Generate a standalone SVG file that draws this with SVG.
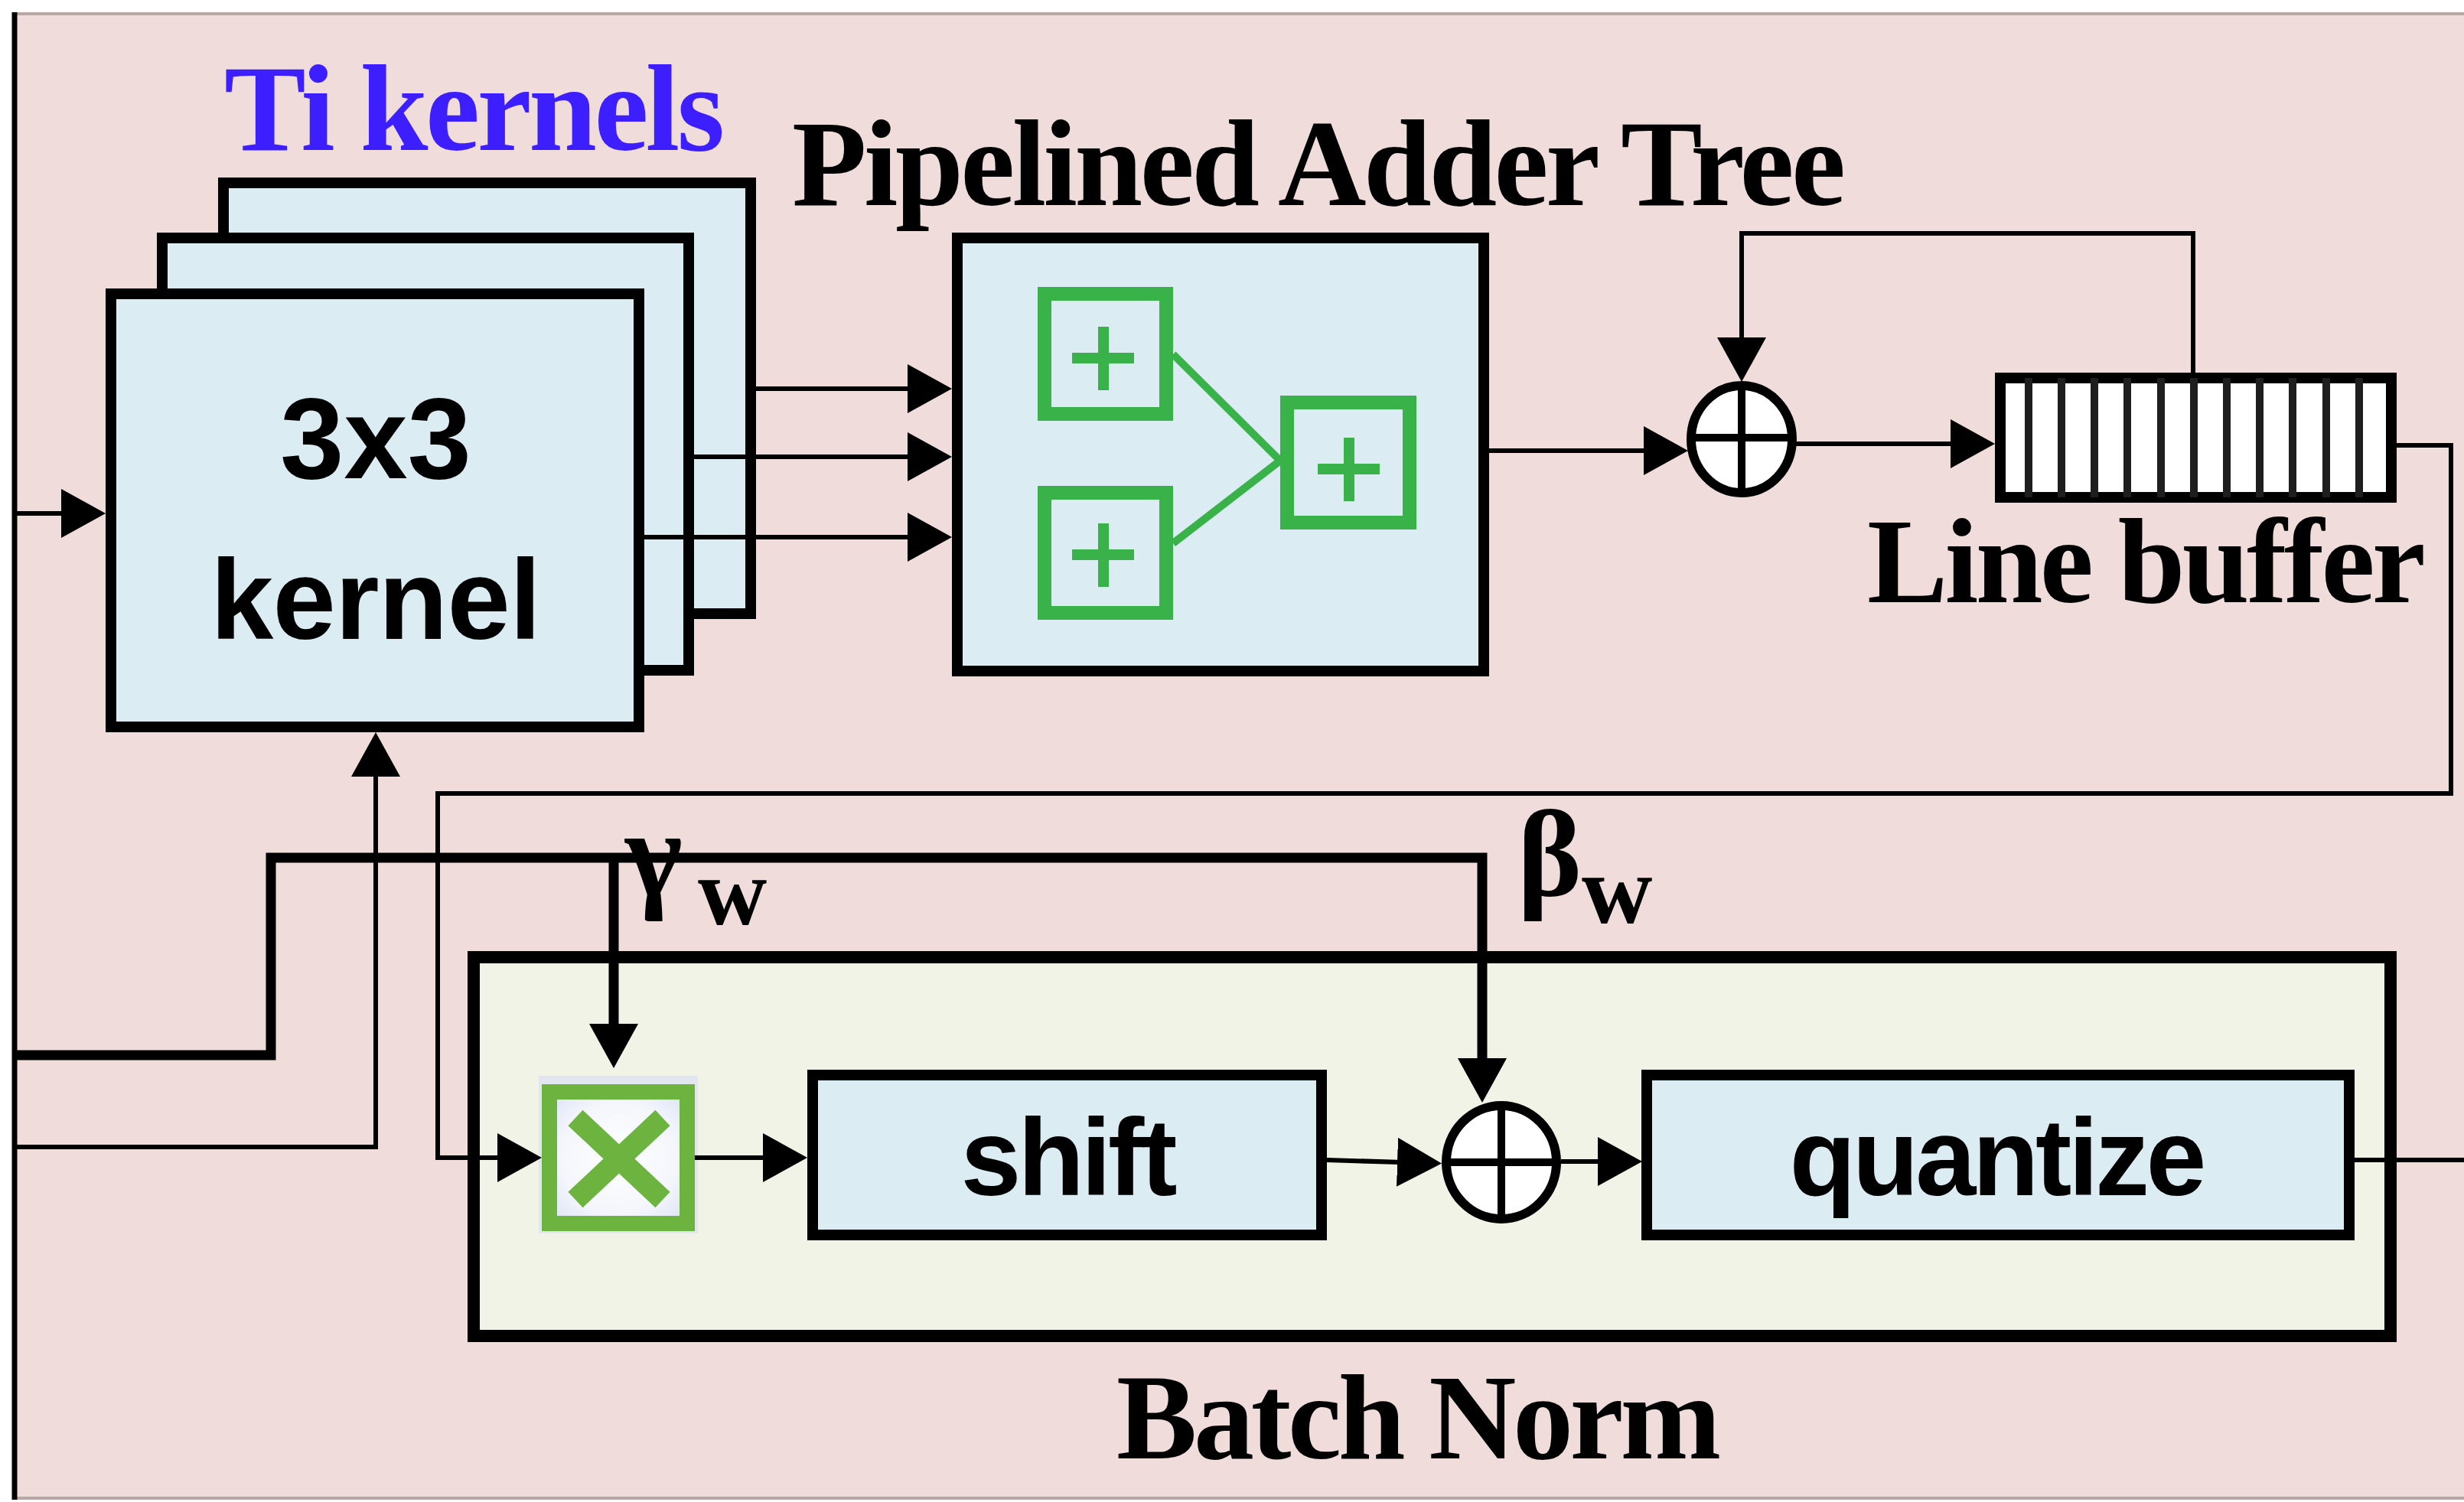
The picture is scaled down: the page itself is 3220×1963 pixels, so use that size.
<svg xmlns="http://www.w3.org/2000/svg" width="3220" height="1963" viewBox="0 0 3220 1963">
  <defs>
    <style>
      .box { fill: #DCECF3; stroke: #000; stroke-width: 14; }
      .bn { fill: #F0F3E5; stroke: #000; stroke-width: 16; }
      .gadd { fill: none; stroke: #3AB24A; stroke-width: 18; }
      .gplus { stroke: #3AB24A; stroke-width: 14; fill: none; }
      .glink { stroke: #3AB24A; stroke-width: 10; fill: none; }
      .sum { fill: #fff; stroke: #000; stroke-width: 12; }
      .sumx { stroke: #000; stroke-width: 10; }
      .wire { fill: none; stroke: #000; stroke-width: 6; }
      .bus { fill: none; stroke: #000; stroke-width: 13; }
      .serif { font-family: "Liberation Serif", "Times New Roman", serif; font-weight: bold; }
      .sans { font-family: "Liberation Sans", Arial, sans-serif; font-weight: bold; text-anchor: middle; }
    </style>
    <marker id="arrow" markerUnits="userSpaceOnUse" viewBox="0 0 58 64" markerWidth="58" markerHeight="64" refX="38" refY="32" orient="auto">
      <path d="M0,0 L58,32 L0,64 z" fill="#000"/>
    </marker>
    <radialGradient id="mulFill" cx="0.5" cy="0.5" r="0.7">
      <stop offset="0" stop-color="#FFFFFF"/>
      <stop offset="0.6" stop-color="#F4F6FC"/>
      <stop offset="1" stop-color="#D9E1F4"/>
    </radialGradient>
  </defs>

  <!-- page and frame -->
  <rect x="0" y="0" width="3220" height="1963" fill="#FFFFFF"/>
  <rect x="19" y="18" width="3201" height="1940" fill="#EFDCDB"/>
  <line x1="19" y1="18" x2="3220" y2="18" stroke="#B9A7A6" stroke-width="4"/>
  <line x1="19" y1="1958" x2="3220" y2="1958" stroke="#B9A7A6" stroke-width="4"/>
  <line x1="19" y1="16" x2="19" y2="1960" stroke="#000" stroke-width="7"/>

  <!-- batch norm container -->
  <g id="batch-norm">
    <rect class="bn" x="619" y="1251" width="2505" height="495"/>
  </g>

  <!-- stack of Ti kernels -->
  <g id="kernel-back">
    <rect class="box" x="292" y="239" width="689" height="563"/>
  </g>
  <g id="kernel-middle">
    <rect class="box" x="212" y="311" width="688" height="565"/>
  </g>
  <g id="kernel-front">
    <rect class="box" x="145" y="384" width="690" height="566"/>
    <text class="sans" x="491" y="625" font-size="150" textLength="250">3x3</text>
    <text class="sans" x="491" y="835" font-size="148" textLength="432">kernel</text>
  </g>

  <!-- pipelined adder tree -->
  <g id="adder-tree">
    <rect class="box" x="1251" y="311" width="688" height="566"/>
    <rect class="gadd" x="1365" y="384" width="159" height="157"/>
    <rect class="gadd" x="1365" y="644" width="159" height="157"/>
    <rect class="gadd" x="1682" y="526" width="160" height="157"/>
    <path class="gplus" d="M1401,468 H1482 M1442,427 V510"/>
    <path class="gplus" d="M1401,725 H1482 M1442,684 V767"/>
    <path class="gplus" d="M1722,613 H1803 M1763,572 V655"/>
    <path class="glink" d="M1533,463 L1673,602 M1533,710 L1673,602"/>
  </g>

  <!-- accumulator adder -->
  <g id="acc-sum">
    <ellipse class="sum" cx="2276" cy="574" rx="66" ry="70"/>
    <path class="sumx" d="M2210,572 H2342 M2276,504 V644"/>
  </g>

  <!-- line buffer -->
  <g id="line-buffer">
    <rect x="2614" y="494" width="511" height="156" fill="#FFFFFF" stroke="#000" stroke-width="14"/>
    <path d="M2651,494 V650 M2694,494 V650 M2737,494 V650 M2780,494 V650 M2824,494 V650 M2867,494 V650 M2910,494 V650 M2953,494 V650 M2996,494 V650 M3040,494 V650 M3083,494 V650" stroke="#1E1E1E" stroke-width="10"/>
  </g>

  <!-- multiplier -->
  <g id="multiplier">
    <rect x="704" y="1406" width="208" height="206" fill="#D8DFF2" opacity="0.6"/>
    <rect x="718" y="1427" width="180" height="172" fill="url(#mulFill)" stroke="#6CB43F" stroke-width="20"/>
    <path d="M752,1461 L866,1568 M752,1568 L866,1461" stroke="#6CB43F" stroke-width="28"/>
  </g>

  <!-- shift -->
  <g id="shift">
    <rect class="box" x="1062" y="1405" width="665" height="209" stroke-width="13"/>
    <text class="sans" x="1397" y="1562" font-size="142" textLength="283">shift</text>
  </g>

  <!-- bias adder -->
  <g id="bias-sum">
    <ellipse class="sum" cx="1962" cy="1519" rx="72" ry="74"/>
    <path class="sumx" d="M1890,1519 H2034 M1962,1445 V1593"/>
  </g>

  <!-- quantize -->
  <g id="quantize">
    <rect class="box" x="2152" y="1405" width="918" height="209" stroke-width="13"/>
    <text class="sans" x="2611" y="1562" font-size="142" textLength="545">quantize</text>
  </g>

  <!-- connectors -->
  <g id="connectors">
    <path class="wire" d="M19,671 H118" marker-end="url(#arrow)"/>
    <path class="wire" d="M981,508 H1224" marker-end="url(#arrow)"/>
    <path class="wire" d="M900,597 H1224" marker-end="url(#arrow)"/>
    <path class="wire" d="M835,702 H1224" marker-end="url(#arrow)"/>
    <path class="wire" d="M1939,589 H2186" marker-end="url(#arrow)"/>
    <path class="wire" d="M2866,487 V305 H2276 V479" marker-end="url(#arrow)"/>
    <path class="wire" d="M2346,580 H2587" marker-end="url(#arrow)"/>
    <path class="wire" d="M3132,582 H3203 V1037 H572 V1513 H688" marker-end="url(#arrow)"/>
    <path class="wire" d="M19,1499 H491 V977" marker-end="url(#arrow)"/>
    <path class="bus" d="M19,1379 H354 V1121 H1937 V1421" marker-end="url(#arrow)"/>
    <path class="bus" d="M802,1121 V1376" marker-end="url(#arrow)"/>
    <path class="wire" d="M908,1513 H1035" marker-end="url(#arrow)"/>
    <path class="wire" d="M1733,1516 L1864,1520" marker-end="url(#arrow)"/>
    <path class="wire" d="M2040,1518 H2126" marker-end="url(#arrow)"/>
    <path class="wire" d="M3070,1516 H3220"/>
  </g>

  <!-- labels -->
  <g id="labels">
    <text class="serif" x="293" y="196" font-size="160" fill="#3C1EFF" textLength="654">Ti kernels</text>
    <text class="serif" x="1035" y="268" font-size="160" fill="#000" textLength="1377">Pipelined Adder Tree</text>
    <text class="serif" x="2440" y="787" font-size="158" fill="#000" textLength="730">Line buffer</text>
    <text class="serif" x="1459" y="1906" font-size="158" fill="#000" textLength="790">Batch Norm</text>
    <text class="serif" x="817" y="1170" font-size="160" fill="#000">γ</text>
    <text class="serif" x="912" y="1208" font-size="125" fill="#000">w</text>
    <text class="serif" x="1983" y="1170" font-size="160" fill="#000">β</text>
    <text class="serif" x="2067" y="1206" font-size="128" fill="#000">w</text>
  </g>
</svg>
